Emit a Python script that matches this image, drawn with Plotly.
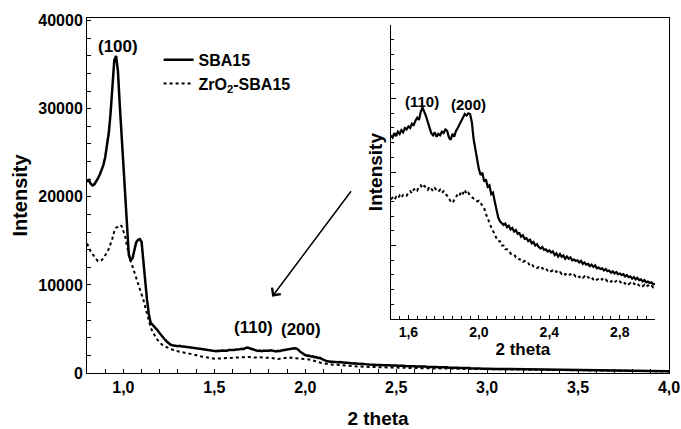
import numpy as np
import plotly.graph_objects as go

# ---- scan grid (2-theta, degrees) ----
theta_low = np.round(np.arange(0.80, 1.495, 0.01), 2)    # 0.80 .. 1.49
theta_mid = np.round(np.arange(1.50, 3.005, 0.01), 2)    # 1.50 .. 3.00
theta_tail = np.round(np.arange(3.05, 4.001, 0.05), 2)   # 3.05 .. 4.00

# ---- SBA15 intensities ----
sba15_low = [
    21700, 21900, 21500, 21300, 21400, 21700, 22100, 22500, 23000, 23600,
    24500, 25700, 27300, 29600, 32800, 35500, 36000, 34300, 30500, 27000,
    23500, 19500, 15900, 13400, 12800, 13000, 13900, 14800, 15100, 15200,
    14900, 12600, 10200, 8300, 6700, 5700, 5500, 5300, 5100, 4800,
    4500, 4200, 3950, 3750, 3550, 3350, 3200, 3150, 3100, 3120,
    3050, 3080, 3000, 3020, 2980, 2960, 2930, 2900, 2880, 2860,
    2800, 2780, 2760, 2720, 2680, 2650, 2620, 2590, 2560, 2540,
]
sba15_mid = [
    2500, 2470, 2530, 2490, 2550, 2520, 2570, 2540, 2600, 2580,
    2620, 2600, 2660, 2640, 2700, 2740, 2710, 2820, 2880, 2830,
    2760, 2680, 2590, 2530, 2500, 2540, 2480, 2520, 2500, 2550,
    2530, 2580, 2560, 2470, 2440, 2520, 2480, 2560, 2600, 2650,
    2700, 2760, 2790, 2770, 2800, 2790, 2680, 2450, 2300, 2180,
    2040, 1960, 1990, 1870, 1900, 1800, 1820, 1700, 1720, 1600,
    1480, 1380, 1330, 1310, 1280, 1300, 1250, 1270, 1220, 1240,
    1190, 1210, 1160, 1170, 1120, 1140, 1090, 1100, 1060, 1080,
    1030, 1050, 1000, 1020, 980, 960, 980, 940, 950, 920,
    935, 905, 920, 870, 895, 850, 885, 845, 865, 820,
    850, 820, 840, 800, 810, 790, 800, 770, 790, 750,
    770, 740, 750, 720, 740, 710, 730, 690, 700, 680,
    690, 660, 680, 650, 660, 630, 650, 620, 640, 610,
    620, 600, 610, 580, 600, 570, 580, 550, 570, 540,
    560, 530, 540, 510, 530, 500, 510, 490, 500, 470,
    480,
]
sba15_tail = [465, 452, 436, 428, 410, 398, 377, 368, 349, 338,
              318, 309, 287, 279, 258, 250, 228, 221, 196, 190]

# ---- ZrO2-SBA15 intensities ----
zro2_low = [
    14700, 14200, 13800, 13500, 13200, 12900, 12700, 12700, 12800, 13000,
    13300, 13700, 14100, 14600, 15300, 16100, 16500, 16600, 16800, 16700,
    16200, 15500, 14400, 13500, 12700, 12100, 11500, 10900, 10200, 9600,
    9000, 8300, 7500, 6700, 5900, 5200, 4700, 4300, 4000, 3700,
    3450, 3250, 3100, 3000, 2900, 2800, 2700, 2620, 2560, 2500,
    2450, 2400, 2350, 2300, 2260, 2220, 2180, 2150, 2120, 2090,
    2000, 1950, 1900, 1860, 1820, 1780, 1750, 1720, 1690, 1660,
]
zro2_mid = [
    1630, 1650, 1620, 1660, 1640, 1680, 1650, 1690, 1700, 1680,
    1720, 1740, 1710, 1760, 1780, 1750, 1800, 1820, 1780, 1810,
    1790, 1760, 1800, 1770, 1740, 1780, 1750, 1730, 1760, 1720,
    1740, 1700, 1680, 1640, 1600, 1580, 1620, 1660, 1700, 1680,
    1740, 1710, 1760, 1700, 1720, 1680, 1660, 1640, 1620, 1600,
    1610, 1580, 1540, 1510, 1430, 1360, 1300, 1250, 1200, 1140,
    1100, 1060, 1060, 1000, 1000, 950, 950, 930, 890, 890,
    880, 840, 840, 810, 810, 780, 790, 760, 760, 730,
    745, 715, 720, 695, 705, 680, 695, 670, 685, 660,
    675, 650, 660, 635, 650, 625, 640, 615, 630, 605,
    622, 598, 610, 588, 602, 580, 595, 570, 588, 562,
    580, 555, 572, 548, 565, 540, 558, 535, 550, 528,
    545, 520, 538, 515, 530, 508, 525, 500, 518, 495,
    510, 488, 505, 480, 498, 475, 490, 468, 485, 460,
    478, 455, 470, 448, 465, 440, 458, 435, 450, 430,
    440,
]
zro2_tail = [425, 410, 398, 385, 372, 360, 345, 336, 320, 310,
             295, 285, 268, 260, 244, 235, 218, 210, 194, 186]

theta = np.concatenate([theta_low, theta_mid, theta_tail])
sba15 = np.array(sba15_low + sba15_mid + sba15_tail)
zro2 = np.array(zro2_low + zro2_mid + zro2_tail)

# inset window
inset_x = [1.5, 3.0]
inset_mask = (theta >= inset_x[0]) & (theta <= inset_x[1])

FONT = "Liberation Sans, Arial, sans-serif"

fig = go.Figure()
fig.add_trace(go.Scatter(x=theta, y=sba15, mode="lines", name="SBA15",
                         line=dict(color="black", width=2.5)))
fig.add_trace(go.Scatter(x=theta, y=zro2, mode="lines", name="ZrO<sub>2</sub>-SBA15",
                         line=dict(color="black", width=2, dash="dot")))
fig.add_trace(go.Scatter(x=theta[inset_mask], y=sba15[inset_mask], mode="lines",
                         xaxis="x2", yaxis="y2", showlegend=False,
                         line=dict(color="black", width=2.2)))
fig.add_trace(go.Scatter(x=theta[inset_mask], y=zro2[inset_mask], mode="lines",
                         xaxis="x2", yaxis="y2", showlegend=False,
                         line=dict(color="black", width=2, dash="dot")))

axis_common = dict(showgrid=False, zeroline=False, showline=True, linecolor="black",
                   linewidth=1, ticks="inside", tickcolor="black", tickwidth=1,
                   automargin=False)

fig.update_layout(
    width=681, height=429,
    margin=dict(l=87, r=12, t=18, b=56),
    paper_bgcolor="white", plot_bgcolor="white",
    separators=", ",
    font=dict(family=FONT, size=16, color="black", weight="bold"),
    showlegend=True,
    legend=dict(x=0.123, y=0.93, xanchor="left", yanchor="top",
                bgcolor="rgba(0,0,0,0)", font=dict(size=16, weight="bold"),
                tracegroupgap=0),
    xaxis=dict(**axis_common, range=[0.8, 4.0], mirror=True,
               tickmode="linear", tick0=1.0, dtick=0.5, tickformat=".1f", ticklen=4,
               minor=dict(dtick=0.1, tick0=0.8, ticks="inside", ticklen=4,
                          tickcolor="black"),
               tickfont=dict(size=16, weight="bold"),
               title=dict(text="2 theta", font=dict(size=19, weight="bold"), standoff=19)),
    yaxis=dict(**axis_common, range=[0, 40300], mirror=True,
               tickmode="linear", tick0=0, dtick=10000, tickformat="d", ticklen=4,
               minor=dict(dtick=2000, tick0=0, ticks="inside", ticklen=4,
                          tickcolor="black"),
               tickfont=dict(size=16, weight="bold"),
               title=dict(text="Intensity", font=dict(size=20, weight="bold"), standoff=5)),
    xaxis2=dict(**axis_common, domain=[0.522, 0.976], anchor="y2", range=inset_x,
                tickmode="linear", tick0=1.6, dtick=0.4, tickformat=".1f", ticklen=4,
                minor=dict(dtick=0.05, tick0=1.5, ticks="inside", ticklen=3,
                           tickcolor="black"),
                tickfont=dict(size=14, weight="bold"),
                title=dict(text="2 theta", font=dict(size=17, weight="bold"), standoff=0)),
    yaxis2=dict(**axis_common, domain=[0.152, 0.980], anchor="x2", range=[0, 4000],
                tickmode="linear", tick0=0, dtick=1000, ticklen=5, showticklabels=False,
                minor=dict(dtick=200, tick0=0, ticks="inside", ticklen=3,
                           tickcolor="black"),
                title=dict(text="Intensity", font=dict(size=19, weight="bold"), standoff=2)),
)

# reflection labels
peak_labels = [("(100)", 0.972, 37050, "x", "y", 17),
               ("(110)", 1.716, 5110, "x", "y", 17),
               ("(200)", 1.975, 4890, "x", "y", 17),
               ("(110)", 1.675, 2960, "x2", "y2", 15),
               ("(200)", 1.94, 2923, "x2", "y2", 15)]
for txt, px, py, xr, yr, fs in peak_labels:
    fig.add_annotation(text=txt, x=px, y=py, xref=xr, yref=yr, showarrow=False,
                       font=dict(size=fs, weight="bold"))

# arrow pointing from the inset to the zoomed region
fig.add_annotation(x=1.818, y=8670, ax=2.258, ay=20800, xref="x", yref="y",
                   axref="x", ayref="y", text="", showarrow=True,
                   arrowhead=4, arrowsize=1.4, arrowwidth=1.5, arrowcolor="black")

fig.write_html("out.html")
